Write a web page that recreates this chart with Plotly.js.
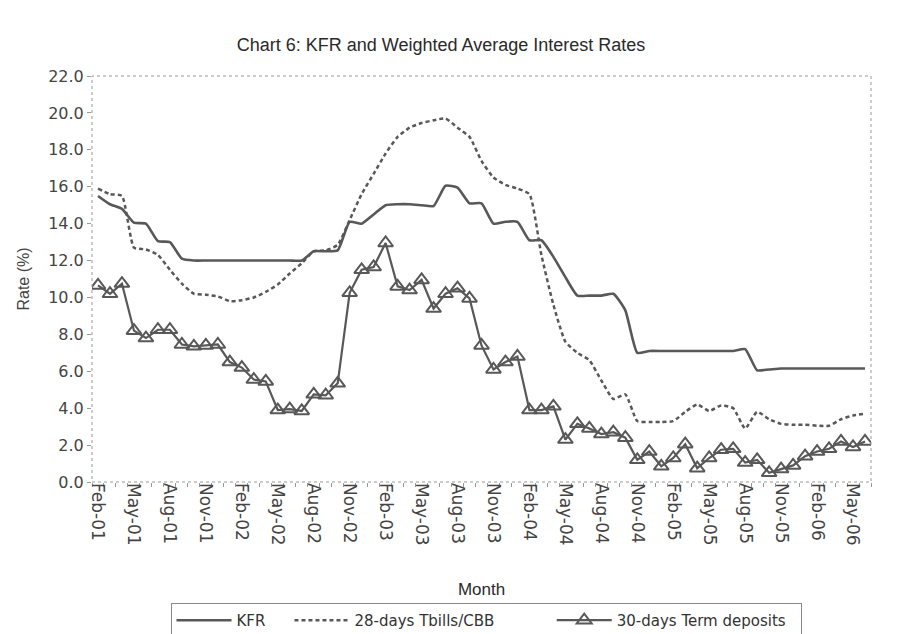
<!DOCTYPE html>
<html>
<head>
<meta charset="utf-8">
<script src="https://cdn.plot.ly/plotly-3.0.1.min.js"></script>
<style>
html,body{margin:0;padding:0;background:#fff;}
#chart{width:900px;height:634px;}
</style>
</head>
<body>
<div id="chart"></div>
<script>
var months = ["Feb-01","Mar-01","Apr-01","May-01","Jun-01","Jul-01","Aug-01","Sep-01","Oct-01","Nov-01","Dec-01",
"Jan-02","Feb-02","Mar-02","Apr-02","May-02","Jun-02","Jul-02","Aug-02","Sep-02","Oct-02","Nov-02","Dec-02",
"Jan-03","Feb-03","Mar-03","Apr-03","May-03","Jun-03","Jul-03","Aug-03","Sep-03","Oct-03","Nov-03","Dec-03",
"Jan-04","Feb-04","Mar-04","Apr-04","May-04","Jun-04","Jul-04","Aug-04","Sep-04","Oct-04","Nov-04","Dec-04",
"Jan-05","Feb-05","Mar-05","Apr-05","May-05","Jun-05","Jul-05","Aug-05","Sep-05","Oct-05","Nov-05","Dec-05",
"Jan-06","Feb-06","Mar-06","Apr-06","May-06","Jun-06"];

var kfr = [15.5,15.05,14.8,14.05,14.0,13.05,13.0,12.1,12.0,12.0,12.0,
12.0,12.0,12.0,12.0,12.0,12.0,12.0,12.5,12.5,12.55,14.1,14.0,
14.5,15.0,15.05,15.05,15.0,14.95,16.05,15.95,15.1,15.1,14.0,14.1,
14.1,13.1,13.1,12.2,11.1,10.1,10.1,10.1,10.2,9.3,7.0,7.1,
7.1,7.1,7.1,7.1,7.1,7.1,7.1,7.2,6.05,6.1,6.15,6.15,
6.15,6.15,6.15,6.15,6.15,6.15];

var tbills = [15.9,15.6,15.5,12.7,12.6,12.3,11.5,10.75,10.2,10.15,10.05,
9.8,9.85,10.0,10.3,10.7,11.3,11.85,12.5,12.55,12.85,14.2,15.6,
16.7,17.8,18.7,19.2,19.45,19.6,19.7,19.2,18.7,17.4,16.5,16.1,
15.9,15.6,12.3,9.6,7.6,7.0,6.6,5.5,4.5,4.75,3.3,3.25,
3.25,3.3,3.8,4.2,3.85,4.15,4.0,2.9,3.8,3.4,3.15,3.1,
3.1,3.05,3.05,3.4,3.6,3.7];

var termDeposits = [10.65,10.2,10.75,8.2,7.8,8.25,8.25,7.45,7.35,7.4,7.45,
6.5,6.2,5.55,5.45,3.9,3.95,3.85,4.75,4.7,5.35,10.25,11.5,
11.65,12.95,10.6,10.4,10.95,9.4,10.2,10.5,9.95,7.4,6.1,6.5,
6.8,3.9,3.9,4.1,2.3,3.15,2.9,2.6,2.7,2.4,1.2,1.65,
0.85,1.3,2.05,0.75,1.3,1.75,1.8,1.05,1.2,0.5,0.7,0.9,
1.4,1.65,1.8,2.2,1.9,2.2];

var seriesNames = ["KFR", "28-days Tbills/CBB", "30-days Term deposits"];
var yTicks = [0,2,4,6,8,10,12,14,16,18,20,22];

var idx = months.map(function(m,i){return i;});
var tickIdx = idx.filter(function(i){return i % 3 === 0;});
var tickTxt = tickIdx.map(function(i){return months[i];});

var lineColor = "#585858";
var textColor = "#444";
var fontFam = "Liberation Sans, Arial, sans-serif";
var tickFam = "DejaVu Sans, Verdana, sans-serif";
function pad(n){ return new Array(n+1).join("\u00a0"); }

var traces = [
  {x: idx, y: kfr, name: seriesNames[0] + pad(4), type: "scatter", mode: "lines",
   line: {color: lineColor, width: 2.6, shape: "spline", smoothing: 0.5}},
  {x: idx, y: tbills, name: seriesNames[1] + pad(11), type: "scatter", mode: "lines",
   line: {color: lineColor, width: 2.5, dash: "4px,3px", shape: "spline", smoothing: 0.5}},
  {x: idx, y: termDeposits, name: seriesNames[2] + pad(2), type: "scatter", mode: "lines+markers",
   line: {color: lineColor, width: 2.2},
   marker: {symbol: "triangle-up-open", size: 13, color: lineColor, line: {width: 2, color: lineColor}}}
];

var layout = {
  width: 900, height: 634,
  margin: {l: 92, r: 29, t: 76, b: 152},
  paper_bgcolor: "#fff", plot_bgcolor: "#fff",
  font: {family: fontFam, color: textColor, size: 16},
  title: {text: "Chart 6: KFR and Weighted Average Interest Rates",
          font: {family: fontFam, size: 18, color: "#2a2a2a"},
          x: 0.49, xanchor: "center", y: 0.93, yanchor: "middle", xref: "container", yref: "container"},
  xaxis: {range: [-0.5, months.length - 0.5], tickmode: "array", tickvals: tickIdx, ticktext: tickTxt,
          tickangle: 90, showgrid: false, zeroline: false, showline: false,
          ticks: "", tickfont: {family: tickFam, size: 17, color: textColor},
          minor: {ticks: "outside", ticklen: 4, tick0: 0.5, dtick: 1, tickcolor: "#999", showgrid: false},
          title: {text: "Month", font: {family: fontFam, size: 17, color: "#2a2a2a"}, standoff: 38}},
  yaxis: {range: [0, 22], tickmode: "array", tickvals: yTicks, tickformat: ".1f",
          showgrid: false, zeroline: false, showline: false,
          ticks: "outside", ticklen: 4, tickcolor: "#999",
          tickfont: {family: tickFam, size: 16, color: textColor},
          title: {text: "Rate (%)", font: {family: fontFam, size: 16, color: textColor}, standoff: 14}},
  shapes: [{type: "rect", xref: "paper", yref: "paper", x0: 0, x1: 1, y0: 0, y1: 1,
            line: {color: "#999", width: 1, dash: "dot"}}],
  showlegend: true,
  legend: {orientation: "h", xref: "container", yref: "container", x: 0.54, xanchor: "center",
           y: 0.049, yanchor: "top", bordercolor: "#888", borderwidth: 1, bgcolor: "#fff",
           itemwidth: 55, font: {family: tickFam, size: 15, color: "#333"}}
};

Plotly.newPlot("chart", traces, layout, {displayModeBar: false, staticPlot: true});
</script>
</body>
</html>
